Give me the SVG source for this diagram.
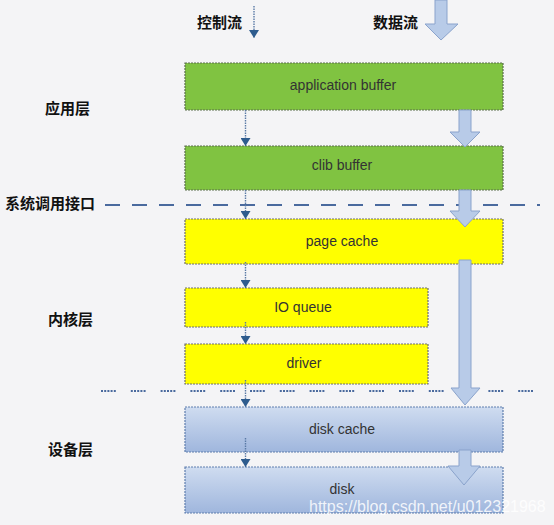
<svg xmlns="http://www.w3.org/2000/svg" width="554" height="525" viewBox="0 0 554 525">
<defs>
<linearGradient id="blueG" x1="0" y1="0" x2="0" y2="1">
<stop offset="0" stop-color="#cfdcf0"/>
<stop offset="1" stop-color="#9fb6dd"/>
</linearGradient>
<marker id="ctl" viewBox="0 0 8 10" refX="8" refY="5" markerWidth="8" markerHeight="10" markerUnits="userSpaceOnUse" orient="auto">
<path d="M0,0 L8,5 L0,10 Z" fill="#2e5c8e"/>
</marker>
</defs>
<style>
.bg{fill:#f4f4f6}
.green{fill:#80c341;stroke:#5a6e4c;stroke-width:1.2;stroke-dasharray:2 1}
.yellow{fill:#ffff00;stroke:#6e6e6e;stroke-width:1.2;stroke-dasharray:2 1}
.blue{fill:url(#blueG);stroke:#5f7eae;stroke-width:1.2;stroke-dasharray:2 1}
.lbl{font-family:"Liberation Sans",Arial,sans-serif;font-size:14px;fill:#333;text-anchor:middle}
.cn{font-family:"Noto Sans CJK SC",sans-serif;font-size:15px;font-weight:bold;fill:#111}
.ctl{stroke:#5a7aa6;stroke-width:1.4;stroke-dasharray:1.5 1;fill:none}
.data{fill:#b8cbe8;stroke:#8aa3cc;stroke-width:1}
.sep1{stroke:#4a6a9e;stroke-width:1.8;stroke-dasharray:15 12;fill:none}
.sep2{stroke:#4a6a9e;stroke-width:1.8;stroke-dasharray:2 1.2 2 1.2 2 1.2 2 1.2 2 15;fill:none}
.wm{font-family:"Liberation Sans",Arial,sans-serif;font-size:16px;fill:#ffffff;fill-opacity:0.85}
</style>
<rect class="bg" x="0" y="0" width="554" height="525"/>

<g id="labels">
<text class="cn" x="197" y="28">控制流</text>
<text class="cn" x="373" y="28">数据流</text>
<text class="cn" x="45" y="114">应用层</text>
<text class="cn" x="5" y="209">系统调用接口</text>
<text class="cn" x="48" y="325">内核层</text>
<text class="cn" x="48" y="455">设备层</text>
</g>

<g id="separators">
<line class="sep1" x1="105" y1="205" x2="540" y2="205"/>
<line class="sep2" x1="101" y1="391" x2="540" y2="391"/>
</g>

<g id="node-application-buffer">
<rect class="green" x="185" y="63" width="318" height="47"/>
<text class="lbl" x="343" y="90">application buffer</text>
</g>
<g id="node-clib-buffer">
<rect class="green" x="185" y="146" width="318" height="44"/>
<text class="lbl" x="342" y="170">clib buffer</text>
</g>
<g id="node-page-cache">
<rect class="yellow" x="185" y="219" width="318" height="45"/>
<text class="lbl" x="342" y="246">page cache</text>
</g>
<g id="node-io-queue">
<rect class="yellow" x="185" y="288" width="243" height="39"/>
<text class="lbl" x="303" y="312">IO queue</text>
</g>
<g id="node-driver">
<rect class="yellow" x="185" y="344" width="243" height="40"/>
<text class="lbl" x="304" y="368">driver</text>
</g>
<g id="node-disk-cache">
<rect class="blue" x="185" y="407" width="318" height="45"/>
<text class="lbl" x="342" y="434">disk cache</text>
</g>
<g id="node-disk">
<rect class="blue" x="185" y="467" width="318" height="46"/>
<text class="lbl" x="342" y="494">disk</text>
</g>

<g id="connectors">
<line class="ctl" x1="254" y1="6" x2="254" y2="38" marker-end="url(#ctl)"/>
<line class="ctl" x1="245.5" y1="110" x2="245.5" y2="146" marker-end="url(#ctl)"/>
<line class="ctl" x1="245.5" y1="190" x2="245.5" y2="219" marker-end="url(#ctl)"/>
<line class="ctl" x1="245.5" y1="262" x2="245.5" y2="288" marker-end="url(#ctl)"/>
<line class="ctl" x1="245.5" y1="322" x2="245.5" y2="344" marker-end="url(#ctl)"/>
<line class="ctl" x1="245.5" y1="380" x2="245.5" y2="407" marker-end="url(#ctl)"/>
<line class="ctl" x1="245.5" y1="438" x2="245.5" y2="467" marker-end="url(#ctl)"/>

<path class="data" d="M435,0 L447,0 L447,24 L458,24 L441,40 L425,24 L435,24 Z"/>
<path class="data" d="M459,110 L471,110 L471,132 L480,132 L465,147 L450,132 L459,132 Z"/>
<path class="data" d="M459,190 L471,190 L471,211 L480,211 L465,227 L450,211 L459,211 Z"/>
<path class="data" d="M459,260 L471,260 L471,388 L480,388 L465,405 L451,388 L459,388 Z"/>
<path class="data" d="M459,450 L471,450 L471,466 L480,466 L464,485 L448,466 L459,466 Z"/>
</g>

<text class="wm" x="309" y="512">https://blog.csdn.net/u012321968</text>
</svg>
